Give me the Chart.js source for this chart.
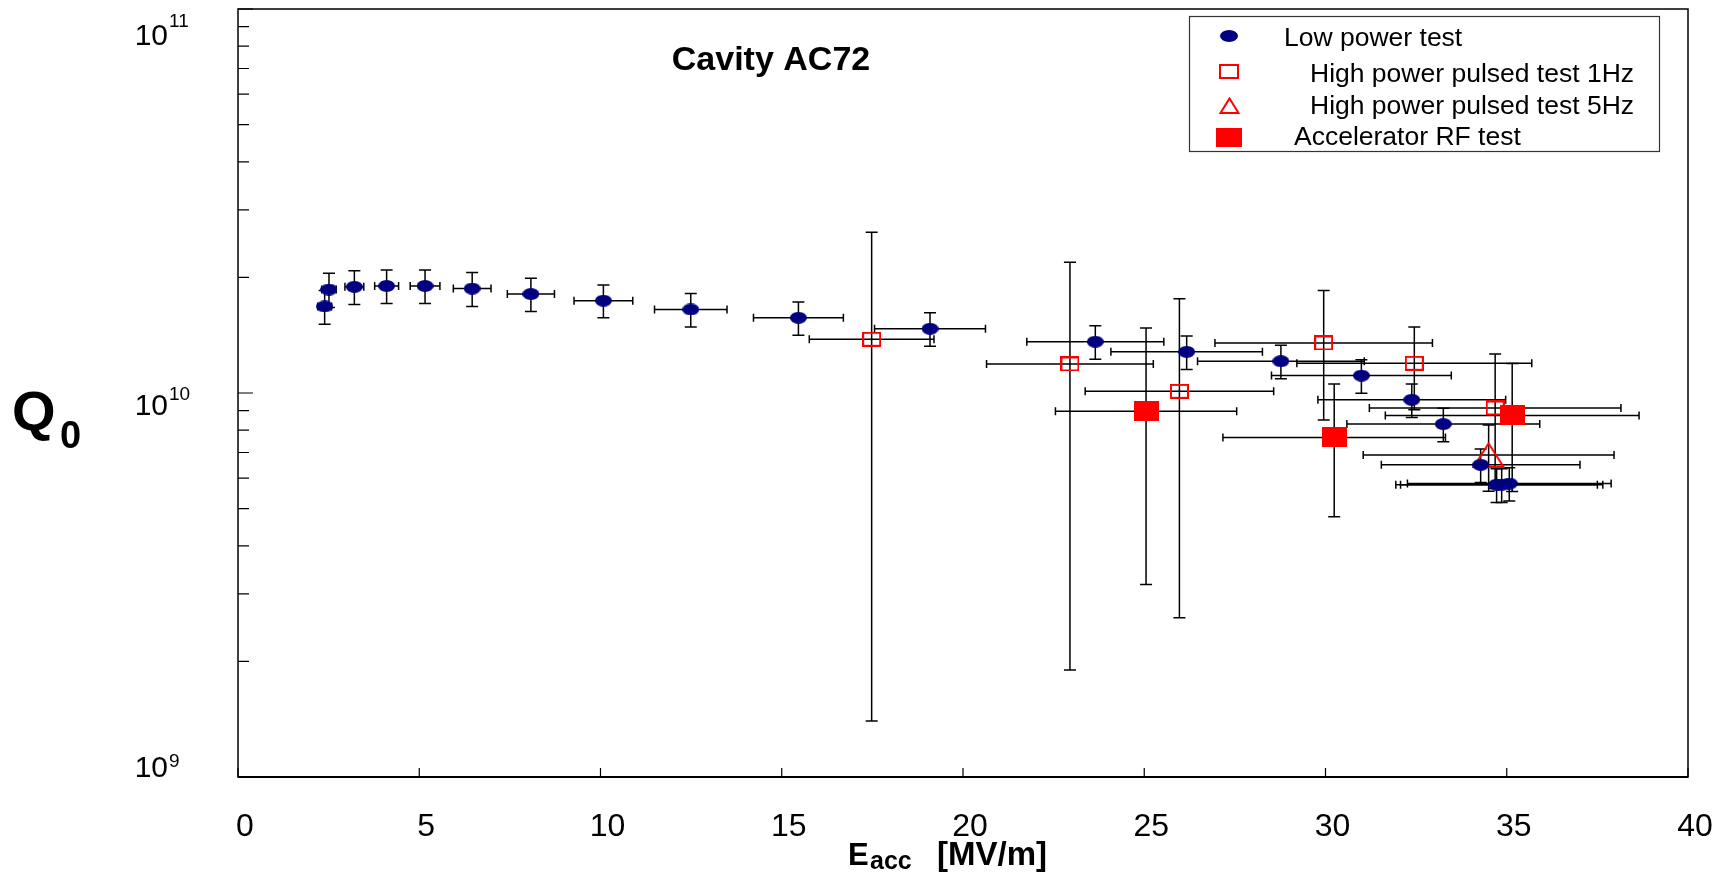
<!DOCTYPE html>
<html>
<head>
<meta charset="utf-8">
<script src="https://cdn.jsdelivr.net/npm/chart.js@4.4.0/dist/chart.umd.min.js"></script>
<style>
  html, body { margin: 0; padding: 0; background: #fff; }
  canvas { display: block; }
</style>
</head>
<body>
<canvas id="myChart" width="1733" height="876"></canvas>
<script>
// Low power test
const lowE = [2.39, 2.51, 3.21, 4.10, 5.16, 6.46, 8.08, 10.08, 12.49, 15.46, 19.09, 23.65, 26.17, 28.77, 30.99, 32.38, 33.25, 34.28, 34.72, 34.86, 35.07]
const lowQ = [1.68e10, 1.86e10, 1.89e10, 1.90e10, 1.90e10, 1.87e10, 1.81e10, 1.74e10, 1.65e10, 1.57e10, 1.47e10, 1.36e10, 1.28e10, 1.21e10, 1.11e10, 9.6e9, 8.3e9, 6.5e9, 5.77e9, 5.77e9, 5.81e9]
const lowEErr = [0.19, 0.2, 0.26, 0.33, 0.41, 0.52, 0.65, 0.81, 1.0, 1.24, 1.53, 1.89, 2.09, 2.3, 2.48, 2.59, 2.66, 2.74, 2.78, 2.79, 2.81]
const lowQErr = [1.7e9, 1.9e9, 1.9e9, 1.9e9, 1.9e9, 1.9e9, 1.8e9, 1.7e9, 1.65e9, 1.57e9, 1.47e9, 1.36e9, 1.28e9, 1.21e9, 1.11e9, 9.6e8, 8.3e8, 6.5e8, 5.8e8, 5.8e8, 5.8e8]

// High power pulsed test 1Hz
const hp1E = [17.48, 22.95, 25.97, 29.95, 32.45, 34.68]
const hp1Q = [1.38e10, 1.19e10, 1.01e10, 1.35e10, 1.195e10, 9.14e9]
const hp1EErr = [1.72, 2.3, 2.6, 3.0, 3.24, 3.47]
const hp1QErr = [1.24e10, 1.0e10, 7.5e9, 5.0e9, 2.9e9, 3.5e9]

// High power pulsed test 5Hz
const hp5E = [34.5]
const hp5Q = [6.9e9]
const hp5EErr = [3.46]
const hp5QErr = [1.35e9]

// Accelerator RF test
const accE = [25.05, 30.24, 35.15]
const accQ = [8.97e9, 7.66e9, 8.74e9]
const accEErr = [2.5, 3.07, 3.5]
const accQErr = [5.8e9, 2.9e9, 3.2e9]

const xTicks = [0, 5, 10, 15, 20, 25, 30, 35, 40]
const yDecades = [9, 10, 11]
const legendLabels = ["Low power test", "High power pulsed test 1Hz", "High power pulsed test 5Hz", "Accelerator RF test"]

const FONT = "'Liberation Sans', Arial, Helvetica, sans-serif"
const NAVY = "#000080"
const RED = "#ff0000"

// marker images (the original markers are a bit stretched)
function marker(w, h, draw) {
  const c = document.createElement("canvas")
  c.width = w
  c.height = h
  draw(c.getContext("2d"), w, h)
  return c
}
const ellipse = (w, h, color) => marker(w, h, (g) => {
  g.fillStyle = color
  g.beginPath()
  g.ellipse(w / 2, h / 2, w / 2, h / 2, 0, 0, Math.PI * 2)
  g.fill()
})
const openBox = (w, h, color) => marker(w, h, (g) => {
  g.strokeStyle = color
  g.lineWidth = 2
  g.strokeRect(1, 1, w - 2, h - 2)
})
const fullBox = (w, h, color) => marker(w, h, (g) => {
  g.fillStyle = color
  g.fillRect(0, 0, w, h)
})
const openTri = (w, h, color) => marker(w, h, (g) => {
  g.strokeStyle = color
  g.lineWidth = 2
  g.beginPath()
  g.moveTo(w / 2, 1.5)
  g.lineTo(w - 1.5, h - 1)
  g.lineTo(1.5, h - 1)
  g.closePath()
  g.stroke()
})

const toPoints = (xs, ys) => xs.map((x, i) => ({ x: x, y: ys[i] }))

const legendMarks = [ellipse(18, 12, NAVY), openBox(20, 15, RED), openTri(21, 17, RED), fullBox(26, 19, RED)]

// error bars + frame + all the ROOT-like text
const rootStyle = {
  id: "rootStyle",
  beforeDatasetsDraw(chart) {
    const ctx = chart.ctx
    const xs = chart.scales.x
    const ys = chart.scales.y
    ctx.save()
    ctx.strokeStyle = "#000"
    ctx.lineWidth = 1.5
    chart.data.datasets.forEach((ds) => {
      ds.data.forEach((p, i) => {
        const px = xs.getPixelForValue(p.x)
        const py = ys.getPixelForValue(p.y)
        const x1 = xs.getPixelForValue(p.x - ds.xErr[i])
        const x2 = xs.getPixelForValue(p.x + ds.xErr[i])
        const y1 = ys.getPixelForValue(p.y - ds.yErr[i])
        const y2 = ys.getPixelForValue(p.y + ds.yErr[i])
        ctx.beginPath()
        ctx.moveTo(x1, py); ctx.lineTo(x2, py)
        ctx.moveTo(x1, py - 4); ctx.lineTo(x1, py + 4)
        ctx.moveTo(x2, py - 4); ctx.lineTo(x2, py + 4)
        ctx.moveTo(px, y1); ctx.lineTo(px, y2)
        ctx.moveTo(px - 6, y1); ctx.lineTo(px + 6, y1)
        ctx.moveTo(px - 6, y2); ctx.lineTo(px + 6, y2)
        ctx.stroke()
      })
    })
    ctx.restore()
  },
  afterDraw(chart) {
    const ctx = chart.ctx
    const a = chart.chartArea
    const xs = chart.scales.x
    const ys = chart.scales.y
    ctx.save()
    ctx.strokeStyle = "#000"
    ctx.lineWidth = 1.5
    ctx.strokeRect(a.left, a.top, a.right - a.left, a.bottom - a.top)
    ctx.lineWidth = 2
    ctx.beginPath()
    ctx.moveTo(a.left, a.bottom); ctx.lineTo(a.right, a.bottom)
    ctx.stroke()

    // ticks inside the frame
    ctx.lineWidth = 1.2
    ctx.beginPath()
    xTicks.forEach((t) => {
      const x = xs.getPixelForValue(t)
      ctx.moveTo(x, a.bottom); ctx.lineTo(x, a.bottom - 9)
    })
    for (let e = 9; e < 11; e++) {
      for (let m = 1; m < 10; m++) {
        const y = ys.getPixelForValue(m * Math.pow(10, e))
        ctx.moveTo(a.left, y); ctx.lineTo(a.left + (m === 1 ? 15 : 11), y)
      }
    }
    const yTop = ys.getPixelForValue(1e11)
    ctx.moveTo(a.left, yTop); ctx.lineTo(a.left + 15, yTop)
    ctx.stroke()

    // y labels 10^n
    ctx.fillStyle = "#000"
    const shift = { 9: [0, -10], 10: [22, -15], 11: [36, -18] }
    yDecades.forEach((e) => {
      const y = ys.getPixelForValue(Math.pow(10, e)) + shift[e][0]
      ctx.font = "30px " + FONT
      ctx.textAlign = "right"
      ctx.textBaseline = "alphabetic"
      ctx.fillText("10", 168, y)
      ctx.font = "19px " + FONT
      ctx.textAlign = "left"
      ctx.fillText(String(e), 169, y + shift[e][1])
    })

    // axis titles
    ctx.textAlign = "left"
    ctx.font = "bold 56px " + FONT
    ctx.fillText("Q", 12, 430)
    ctx.font = "bold 38px " + FONT
    ctx.fillText("0", 60, 448)

    ctx.font = "bold 31px " + FONT
    ctx.fillText("E", 848, 865)
    ctx.font = "bold 25px " + FONT
    ctx.fillText("acc", 870, 869)
    ctx.font = "bold 33px " + FONT
    ctx.fillText("[MV/m]", 937, 865)

    // title
    ctx.textAlign = "center"
    ctx.font = "bold 34px " + FONT
    ctx.fillText("Cavity AC72", 771, 70)

    // legend
    ctx.strokeStyle = "#333"
    ctx.lineWidth = 1.2
    ctx.strokeRect(1189.5, 16.5, 470, 135)
    const lx = [1284, 1310, 1310, 1294]
    const ly = [46, 82, 114, 144.5]
    const my = [36, 71, 105, 137]
    ctx.textAlign = "left"
    ctx.font = "26.5px " + FONT
    legendLabels.forEach((t, i) => {
      const img = legendMarks[i]
      ctx.drawImage(img, Math.round(1229 - img.width / 2), Math.round(my[i] - img.height / 2))
      ctx.fillText(t, lx[i], ly[i])
    })
    ctx.restore()
  },
}

const ctx = document.getElementById("myChart").getContext("2d")
const myChart = new Chart(ctx, {
  type: "scatter",
  data: {
    datasets: [
      {
        label: legendLabels[0],
        data: toPoints(lowE, lowQ),
        xErr: lowEErr,
        yErr: lowQErr,
        pointStyle: ellipse(17, 12, NAVY),
        pointRadius: 8,
      },
      {
        label: legendLabels[1],
        data: toPoints(hp1E, hp1Q),
        xErr: hp1EErr,
        yErr: hp1QErr,
        pointStyle: openBox(19, 15, RED),
        pointRadius: 8,
      },
      {
        label: legendLabels[2],
        data: toPoints(hp5E, hp5Q),
        xErr: hp5EErr,
        yErr: hp5QErr,
        pointStyle: openTri(33, 26, RED),
        pointRadius: 8,
      },
      {
        label: legendLabels[3],
        data: toPoints(accE, accQ),
        xErr: accEErr,
        yErr: accQErr,
        pointStyle: fullBox(25, 20, RED),
        pointRadius: 8,
      },
    ],
  },
  options: {
    responsive: false,
    devicePixelRatio: 1,
    animation: false,
    layout: { padding: { top: 9, right: 45, bottom: 0, left: 0 } },
    plugins: {
      legend: { display: false },
      tooltip: { enabled: false },
      title: { display: false },
    },
    scales: {
      x: {
        type: "linear",
        min: 0,
        max: 40,
        afterFit: (s) => { s.height = 99 },
        afterBuildTicks: (s) => { s.ticks = xTicks.map((v) => ({ value: v })) },
        // grid hidden, but tickLength still pushes labels down
        grid: { display: false, drawTicks: true, tickLength: 6 },
        border: { display: false },
        ticks: {
          color: "#000",
          font: { family: FONT, size: 32 },
          padding: 25,
          labelOffset: 7,
          autoSkip: false,
          maxRotation: 0,
        },
      },
      y: {
        type: "logarithmic",
        min: 1e9,
        max: 1e11,
        afterFit: (s) => { s.width = 238 },
        grid: { display: false, drawTicks: false },
        border: { display: false },
        ticks: { display: false },
      },
    },
  },
  plugins: [rootStyle],
})
</script>
</body>
</html>
